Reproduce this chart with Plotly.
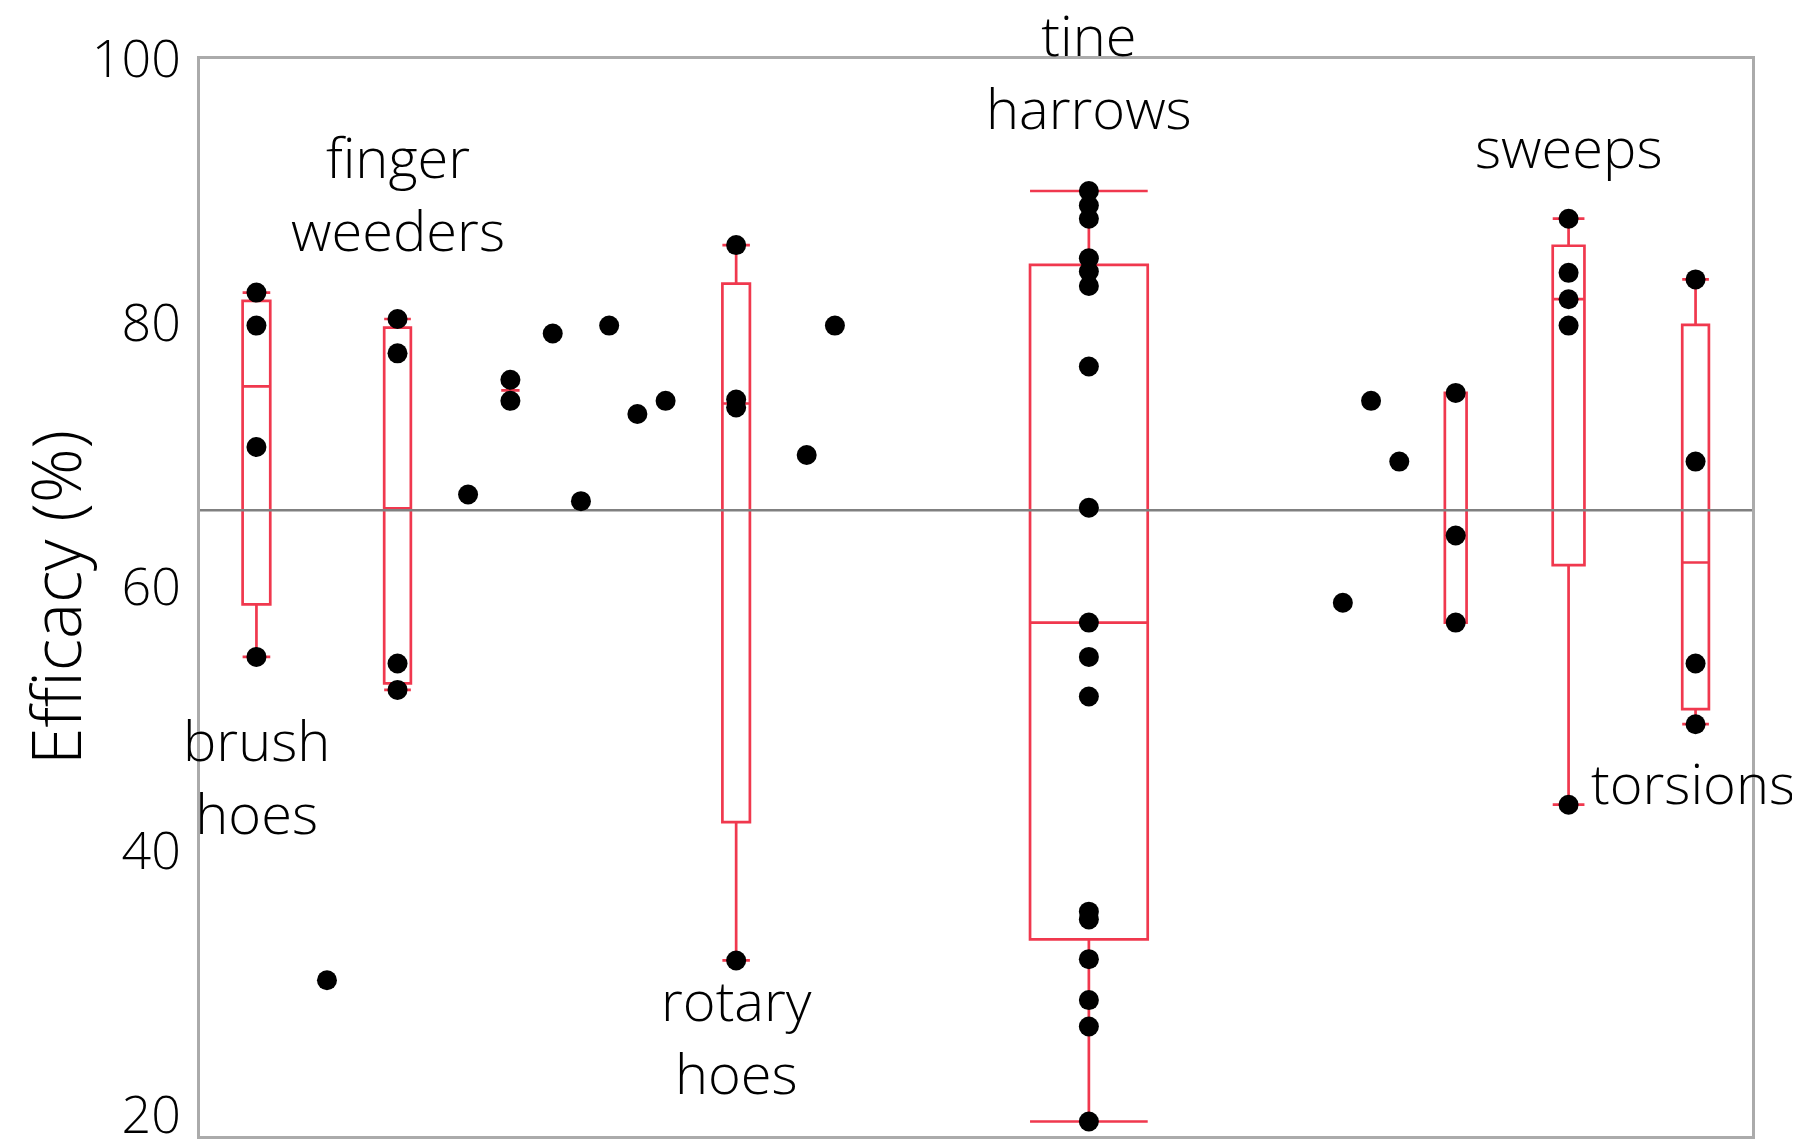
import statistics
import plotly.graph_objects as go

# ---------------- data ----------------
group_x = [4, 9, 14, 19, 22, 25, 27, 29, 31, 33, 38, 43, 45, 63, 81, 83, 85, 89, 97, 106]
group_values = [
    [82.3, 79.8, 70.6, 54.7],            # brush hoes
    [30.2],
    [80.3, 77.7, 54.2, 52.2],            # finger weeders
    [67.0],
    [75.7, 74.1],
    [79.2],
    [66.5],
    [79.8],
    [73.1],
    [74.1],
    [85.9, 74.2, 73.6, 31.7],            # rotary hoes
    [70.0],
    [79.8],
    [90.0, 88.9, 87.9, 84.9, 83.9, 82.8, 76.7, 66.0, 57.3,
     54.7, 51.7, 35.4, 34.8, 31.8, 28.7, 26.7, 19.5],   # tine harrows
    [58.8],
    [74.1],
    [69.5],
    [74.7, 63.9, 57.3],
    [87.9, 83.8, 81.8, 79.8, 43.5],      # sweeps
    [83.3, 69.5, 54.2, 49.6],            # torsions
]

label_text = ["brush<br>hoes", "finger<br>weeders", "rotary<br>hoes",
              "tine<br>harrows", "sweeps", "torsions"]
label_x = [4, 14, 38, 63, 97, 105.8]
label_y = [45.7, 89.9, 26.0, 99.1, 93.4, 45.2]

y_ticks = [20, 40, 60, 80, 100]
y_title = "Efficacy (%)"

# ---------------- style ----------------
X_RANGE = [0, 110]
Y_RANGE = [18.4, 100]
RED = "#F0384E"
FONT = "Open Sans"
box_width = {4: 1.96, 14: 1.89, 22: 1.3, 38: 1.95, 63: 8.34, 89: 1.54, 97: 2.25, 106: 1.89}


def quartile_exc(vals, p):
    s = sorted(vals)
    n = len(s)
    pos = p * (n + 1)
    if pos <= 1:
        return s[0]
    if pos >= n:
        return s[-1]
    k = int(pos)
    f = pos - k
    return s[k - 1] + f * (s[k] - s[k - 1])


fig = go.Figure()

# overall mean line
all_vals = [v for g in group_values for v in g]
mean_val = sum(all_vals) / len(all_vals)
fig.add_trace(go.Scatter(x=X_RANGE, y=[mean_val, mean_val], mode="lines",
                         line=dict(color="#808080", width=2.5),
                         showlegend=False, hoverinfo="skip"))

# boxes (Excel-style exclusive quartiles)
for gx, vals in zip(group_x, group_values):
    n = len(vals)
    if n < 2:
        continue
    med = statistics.median(vals)
    if n == 2:
        q1 = q3 = lo = hi = med
    else:
        q1 = quartile_exc(vals, 0.25)
        q3 = quartile_exc(vals, 0.75)
        iqr = q3 - q1
        lo = min(v for v in vals if v >= q1 - 1.5 * iqr)
        hi = max(v for v in vals if v <= q3 + 1.5 * iqr)
    fig.add_trace(go.Box(
        x=[gx], q1=[q1], median=[med], q3=[q3], lowerfence=[lo], upperfence=[hi],
        width=box_width.get(gx, 1.9), whiskerwidth=1,
        line=dict(color=RED, width=2.7), fillcolor="rgba(0,0,0,0)",
        boxpoints=False, showlegend=False, hoverinfo="skip"))

# points
px_, py_ = [], []
for gx, vals in zip(group_x, group_values):
    for v in vals:
        px_.append(gx)
        py_.append(v)
fig.add_trace(go.Scatter(x=px_, y=py_, mode="markers",
                         marker=dict(color="black", size=20),
                         showlegend=False, hoverinfo="skip"))

for t, x, y in zip(label_text, label_x, label_y):
    fig.add_annotation(x=x, y=y, text=t, showarrow=False,
                       xanchor="center", yanchor="middle",
                       font=dict(family=FONT, size=56, color="black", weight=300))

# the page body has an 8px margin, so the figure is sized/margined to compensate
fig.update_layout(
    width=1792, height=1134,
    margin=dict(l=192, r=48, t=51, b=6, autoexpand=False),
    paper_bgcolor="white", plot_bgcolor="white",
    boxmode="overlay",
    font=dict(family=FONT, color="black"),
)
fig.update_xaxes(range=X_RANGE, showticklabels=False, ticks="", showgrid=False,
                 zeroline=False, showline=True, mirror=True, automargin=False,
                 linecolor="#ABABAB", linewidth=2.5)
fig.update_yaxes(range=Y_RANGE, tickvals=y_ticks, ticks="", showgrid=False,
                 zeroline=False, showline=True, mirror=True, automargin=False,
                 linecolor="#ABABAB", linewidth=2.5,
                 ticklabelstandoff=6, ticklabeloverflow="allow",
                 tickfont=dict(family=FONT, size=52, color="black", weight=300),
                 title=dict(text=y_title, standoff=0,
                            font=dict(family=FONT, size=68, color="black", weight=300)))

fig.write_html("out.html")
